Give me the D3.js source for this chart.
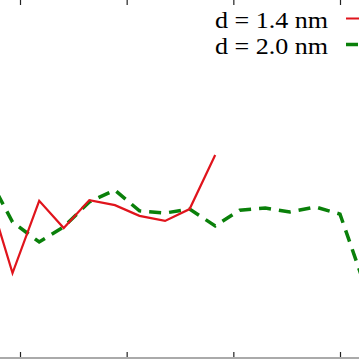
<!DOCTYPE html>
<html>
<head>
<meta charset="utf-8">
<script src="https://cdn.jsdelivr.net/npm/d3@7"></script>
<style>
  body { margin: 0; background: #fff; }
  svg { display: block; overflow: hidden; }
</style>
</head>
<body>
<div id="chart"></div>
<script>
// x positions (in tick units) of the samples, shared by both series
const xValues = [-0.3, -0.07, 0.18, 0.41, 0.65, 0.89, 1.12, 1.36, 1.59, 1.83, 2.06, 2.3, 2.53, 2.77, 3.0, 3.24];
const series14 = [46.4, 23.7, 43.9, 36.3, 44.1, 42.7, 39.7, 38.3, 41.6, 56.7];
const series20 = [50.8, 38.0, 32.4, 36.6, 43.6, 46.9, 41.1, 40.5, 41.6, 36.9, 41.3, 41.9, 40.8, 42.2, 40.2, 19.6];
const xTicks = [0, 1, 2, 3];
const legendLabels = ['d = 1.4 nm', 'd = 2.0 nm'];

const width = 359;
const height = 359;

const svg = d3.select('#chart')
  .append('svg')
  .attr('width', width)
  .attr('height', height);

const x = d3.scaleLinear()
  .domain([0, 3])
  .range([20, 340]);

const y = d3.scaleLinear()
  .domain([0, 100])
  .range([358, 0]);

// bottom axis, ticks pointing inward
const bottomAxis = svg.append('g')
  .attr('transform', 'translate(0,358)')
  .call(d3.axisBottom(x).tickValues(xTicks).tickSize(-6).tickFormat(''));
bottomAxis.select('.domain').remove();
bottomAxis.selectAll('.tick line').attr('stroke', '#222').attr('stroke-width', 1.2);
svg.append('line')
  .attr('x1', 0).attr('x2', width)
  .attr('y1', 358).attr('y2', 358)
  .attr('stroke', '#aaa')
  .attr('stroke-width', 2);

// top axis
const topAxis = svg.append('g')
  .attr('transform', 'translate(0,0)')
  .call(d3.axisTop(x).tickValues(xTicks).tickSize(-5).tickFormat(''));
topAxis.select('.domain').remove();
topAxis.selectAll('.tick line').attr('stroke', '#222').attr('stroke-width', 1.2);

const line = d3.line()
  .x((d, i) => x(xValues[i]))
  .y(d => y(d));

svg.append('path')
  .datum(series20)
  .attr('fill', 'none')
  .attr('stroke', '#0a800a')
  .attr('stroke-width', 3.5)
  .attr('stroke-dasharray', '12,8')
  .attr('d', line);

svg.append('path')
  .datum(series14)
  .attr('fill', 'none')
  .attr('stroke', '#e0141c')
  .attr('stroke-width', 2.2)
  .attr('d', line);

// legend (the source picture is stretched sideways, so the text is too)
const legendStyles = [
  { color: '#e0141c', width: 2.2, dash: null },
  { color: '#0a800a', width: 3.5, dash: '12,8' }
];
legendLabels.forEach((label, i) => {
  const base = 28 + i * 26;
  svg.append('text')
    .attr('x', 328)
    .attr('y', base)
    .attr('text-anchor', 'end')
    .attr('textLength', 113)
    .attr('lengthAdjust', 'spacingAndGlyphs')
    .style('font-family', '"Liberation Serif", "DejaVu Serif", serif')
    .style('font-size', '23px')
    .attr('fill', '#000')
    .text(label);
  svg.append('line')
    .attr('x1', 346).attr('x2', 380)
    .attr('y1', base - 9.5).attr('y2', base - 9.5)
    .attr('stroke', legendStyles[i].color)
    .attr('stroke-width', legendStyles[i].width)
    .attr('stroke-dasharray', legendStyles[i].dash);
});
</script>
</body>
</html>
